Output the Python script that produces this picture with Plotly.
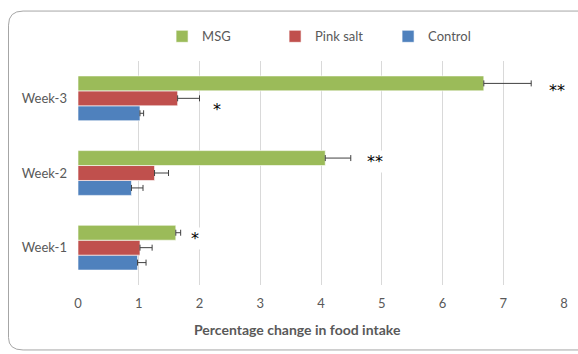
import plotly.graph_objects as go

weeks = ["Week-1", "Week-2", "Week-3"]
series_names = ["Control", "Pink salt", "MSG"]
control = [0.98, 0.88, 1.02]
control_err = [0.14, 0.19, 0.06]
pink_salt = [1.02, 1.26, 1.64]
pink_salt_err = [0.20, 0.23, 0.36]
msg = [1.61, 4.07, 6.68]
msg_err = [0.08, 0.42, 0.78]

# significance marks: (text, x value, y position in category units)
sig_marks = [
    ("*", 1.93, 0.12),
    ("**", 4.89, 1.16),
    ("*", 2.29, 1.85),
    ("**", 7.89, 2.11),
]

colors = {"Control": "#4F81BD", "Pink salt": "#C0504D", "MSG": "#9BBB59"}
values = {"Control": (control, control_err),
          "Pink salt": (pink_salt, pink_salt_err),
          "MSG": (msg, msg_err)}

font_family = "Lato, 'Open Sans', sans-serif"
text_gray = "#595959"

fig = go.Figure()
for name in series_names:
    vals, errs = values[name]
    fig.add_trace(go.Bar(
        y=weeks, x=vals, name=name, orientation="h",
        marker=dict(color=colors[name], line=dict(width=0.6, color="white")),
        error_x=dict(type="data", array=errs, arrayminus=[0] * len(errs),
                     symmetric=False, color="#404040", thickness=1, width=3),
    ))

for text, xv, yv in sig_marks:
    fig.add_annotation(x=xv, y=yv, xref="x", yref="y", text=text,
                       showarrow=False, bgcolor="white",
                       font=dict(family="DejaVu Sans", size=16, color="black"))

# x-axis title centred on the chart area
fig.add_annotation(x=0.452, y=-0.2, xref="paper", yref="paper",
                   xanchor="center", yanchor="middle",
                   text="<b>Percentage change in food intake</b>",
                   showarrow=False, font=dict(family=font_family, size=14, color=text_gray))

fig.update_layout(
    width=578, height=354,
    margin=dict(l=78, r=10, t=61, b=69),
    paper_bgcolor="white", plot_bgcolor="white",
    barmode="group", bargap=0.4, bargroupgap=0,
    font=dict(family=font_family, size=13, color=text_gray),
    showlegend=True,
    legend=dict(orientation="h", traceorder="reversed",
                x=0.173, xanchor="left", y=1.11, yanchor="middle",
                itemwidth=30, entrywidth=68, entrywidthmode="pixels",
                font=dict(family=font_family, size=13, color=text_gray)),
)
fig.update_xaxes(range=[0, 8], dtick=1, showgrid=True, gridcolor="#D9D9D9",
                 gridwidth=1, zeroline=False, showline=False,
                 ticks="", tickfont=dict(size=13, color=text_gray),
                 ticklabelstandoff=9)
fig.update_yaxes(categoryorder="array", categoryarray=weeks,
                 showgrid=False, showline=False, ticks="",
                 ticklabelstandoff=10, tickfont=dict(size=13, color=text_gray))

# rounded chart frame, running off the right edge
fig.add_shape(type="path", xref="paper", yref="paper",
              path="M 1.2 1.223 L -0.113 1.223 Q -0.143 1.223 -0.143 1.16 "
                   "L -0.143 -0.235 Q -0.143 -0.29 -0.113 -0.29 L 1.2 -0.29",
              line=dict(color="#A6A6A6", width=1), layer="below")

fig.write_html("out.html")
